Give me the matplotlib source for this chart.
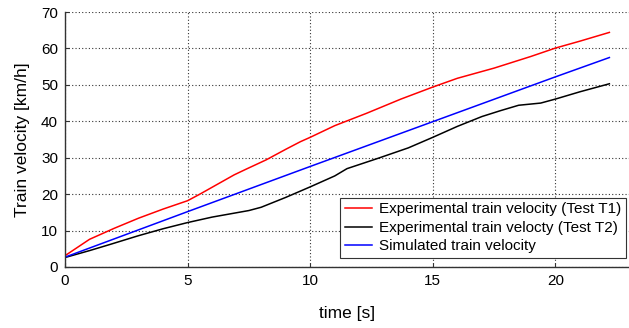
import matplotlib.pyplot as plt
import numpy as np

plt.rcParams['font.family'] = ['Liberation Sans', 'DejaVu Sans']

# time samples [s] and velocities [km/h]
t_red = [0, 1, 2, 3, 4, 5, 5.5, 6.9, 7.4, 8.2, 9, 9.6, 10, 11, 12.3, 13.7, 15, 16, 17.5, 19, 20, 21, 22.2]
v_red = [3.1, 7.6, 10.6, 13.4, 15.9, 18.2, 20.0, 25.3, 26.9, 29.4, 32.3, 34.4, 35.6, 38.8, 42.2, 46.1, 49.4, 51.8, 54.6, 57.8, 60.1, 62.0, 64.4]

t_black = [0, 1, 1.84, 3, 4, 5, 6, 7, 7.5, 8, 9, 10, 11, 11.5, 12.75, 14, 15, 16, 17, 17.75, 18.5, 19.4, 20, 21, 22.2]
v_black = [2.6, 4.5, 6.2, 8.6, 10.5, 12.2, 13.7, 14.9, 15.5, 16.4, 19.1, 22.0, 25.0, 27.0, 29.8, 32.7, 35.6, 38.6, 41.3, 42.9, 44.4, 45.0, 46.1, 48.1, 50.3]

t_blue = [0, 5, 10, 15, 20, 22.2]
v_blue = [2.7, 15.2, 27.6, 39.9, 52.2, 57.5]

fig = plt.figure(figsize=(6.29, 3.28), dpi=100)
ax = fig.add_axes([65 / 629, 61 / 328, 1 - 65 / 629, (267 - 12) / 328])

ax.plot(t_red, v_red, color='#ff0000', lw=1.1, label='Experimental train velocity (Test T1)')
ax.plot(t_black, v_black, color='#000000', lw=1.1, label='Experimental train velocty (Test T2)')
ax.plot(t_blue, v_blue, color='#0000ff', lw=1.1, label='Simulated train velocity')

ax.set_xlim(0, 23)
ax.set_ylim(0, 70)
ax.set_xticks([0, 5, 10, 15, 20])
ax.set_yticks(range(0, 71, 10))
ax.grid(True, color='#333333', linestyle=(0, (1, 2)), linewidth=0.8)
ax.spines['top'].set_visible(False)
ax.spines['right'].set_visible(False)
for s in ('left', 'bottom'):
    ax.spines[s].set_color('#333333')
    ax.spines[s].set_linewidth(1.0)
ax.tick_params(direction='in', length=3, labelsize=11, color='#333333', pad=5)

ax.set_xlabel('time [s]', fontsize=12.5, labelpad=13)
ax.set_ylabel('Train velocity [km/h]', fontsize=12.5, labelpad=8)

leg = ax.legend(loc='lower right', bbox_to_anchor=(0.995, 0.035), fontsize=11,
                fancybox=False, framealpha=1, edgecolor='#333333',
                handlelength=1.75, handletextpad=0.5, borderpad=0.3,
                labelspacing=0.3, borderaxespad=0)
leg.get_frame().set_linewidth(0.8)

fig.savefig('out.png', dpi=100)
